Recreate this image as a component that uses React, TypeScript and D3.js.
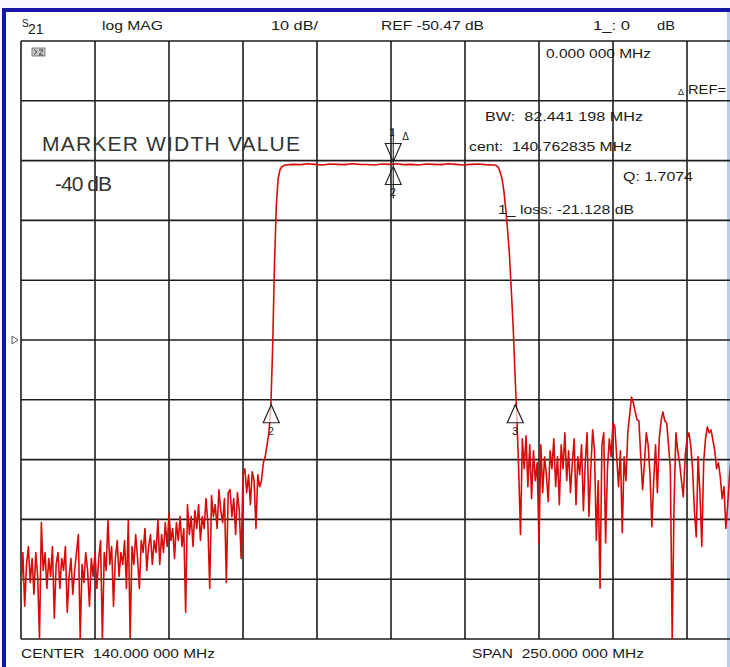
import React from 'react';
import * as d3 from 'd3';

// analyzer settings
const START_MHZ = 15;
const STOP_MHZ = 265;
const REF_DB = -50.47;
const DB_PER_DIV = 10;
const X_DIVS = 10;
const Y_DIVS = 10;

// trace: three sweep segments (start MHz, step MHz, dB values)
const LOW_START = 15;
const FINE_STEP = 0.625;
const lowBand = [
  -92, -86, -95, -88, -85, -91, -87, -93, -86, -90,
  -101, -81, -89, -86, -92, -87, -90, -85, -97, -88,
  -86, -92, -87, -89, -85, -96, -90, -87, -93, -89,
  -86, -83, -101, -88, -91, -86, -89, -95, -87, -90,
  -86, -92, -87, -84, -101, -86, -89, -80.6, -88, -85,
  -95, -87, -84, -90, -86, -88, -84, -92, -80.6, -101,
  -85, -88, -83, -87, -92, -84, -86, -82, -89, -85,
  -83, -88, -84, -86, -80.5, -88, -83, -86, -81, -85,
  -79.5, -84, -82, -87, -81, -84, -80, -85, -82, -96,
  -78, -83, -80, -85, -79, -82, -78, -84, -80, -82,
  -77, -81, -92, -76.5, -80, -78, -82, -75.5, -79, -81,
  -77, -91, -76, -75.5, -80, -77, -83, -76, -79, -87,
  -73, -72, -76, -73, -78, -72.5, -74, -82, -73, -75,
  -74, -71, -70, -68, -66, -62, -52, -38, -28, -23.5,
  -22, -21.5, -21.3,
];

const PASS_START = 104.375;
const PASS_STEP = 2.5;
const passBand = [
  -21.2, -21.1, -21.15, -21.0, -21.1, -21.2, -21.05, -21.1, -21.15, -21.0,
  -21.1, -21.13, -21.2, -21.05, -21.1, -21.0, -21.15, -21.1, -21.2, -21.05,
  -21.1, -21.15, -21.0, -21.1, -21.2, -21.1, -21.05, -21.15, -21.2,
];

const HIGH_START = 175;
const highBand = [
  -21.2, -21.3, -21.6, -22.4, -23.5, -25.5, -28.5, -32, -36, -42,
  -48, -56, -63, -72, -83, -67, -72, -66.5, -75, -68,
  -77, -69, -74, -71, -84.5, -68, -76, -70, -73, -77.5,
  -69, -72, -67, -75, -70, -78, -68, -72, -66, -74,
  -69, -76, -71, -67, -78, -70, -73, -68, -79, -71,
  -66, -80, -72, -65.5, -69, -84, -74, -92, -68, -66,
  -84.4, -72, -67, -70, -64.3, -65, -70, -75, -69, -82.7,
  -70, -74, -66, -63, -60, -61, -62.5, -63.8, -64, -70,
  -75.5, -71, -66, -68, -73, -81.7, -74, -68, -76, -67,
  -64, -62.5, -64, -64.3, -68, -72, -101, -78, -66, -69,
  -71, -74, -76.7, -70, -67, -66, -68, -72, -79, -83.4,
  -70, -76, -85, -71, -67, -65, -66, -65.5, -67.2, -69,
  -72, -71, -73.4, -77, -75, -82, -78, -73, -70, -76,
  -68, -74, -79, -71, -67, -73, -80, -70, -75, -69,
  -77, -72, -74, -68, -76,
];

// markers
const markerFreqs = [140.762835, 99.542, 181.983];
const markerLevels = [-21.128, -61.128, -61.128];
const markerIds = ['1', '2', '3'];

const FONT = '"Liberation Sans", Arial, Helvetica, sans-serif';

export default function App() {
  const W = 730;
  const H = 667;
  const gx0 = 21;
  const gx1 = 761;
  const gy0 = 41;
  const gy1 = 639;

  const topDb = REF_DB + (Y_DIVS / 2) * DB_PER_DIV;
  const botDb = REF_DB - (Y_DIVS / 2) * DB_PER_DIV;

  const x = d3.scaleLinear().domain([START_MHZ, STOP_MHZ]).range([gx0, gx1]);
  const y = d3.scaleLinear().domain([botDb, topDb]).range([gy1, gy0]).clamp(true);

  const pts: [number, number][] = [
    ...lowBand.map((v, i) => [LOW_START + i * FINE_STEP, v] as [number, number]),
    ...passBand.map((v, i) => [PASS_START + i * PASS_STEP, v] as [number, number]),
    ...highBand.map((v, i) => [HIGH_START + i * FINE_STEP, v] as [number, number]),
  ];

  const line = d3
    .line<[number, number]>()
    .x((d) => x(d[0]))
    .y((d) => y(d[1]));

  const xTicks = d3.range(X_DIVS + 1).map((k) => START_MHZ + (k * (STOP_MHZ - START_MHZ)) / X_DIVS);
  const yTicks = d3.range(Y_DIVS + 1).map((k) => topDb - k * DB_PER_DIV);

  const txt = { fontFamily: FONT, fontSize: 13, fill: '#1a1a1a', whiteSpace: 'pre' } as const;
  const small = { ...txt, fontSize: 10 } as const;

  const refY = y(REF_DB);

  return (
    <svg
      width={W}
      height={H}
      style={{ position: 'absolute', left: 0, top: 0, display: 'block', background: '#f6f8fc' }}
    >
      <defs>
        <clipPath id="plot">
          <rect x={gx0} y={gy0} width={gx1 - gx0} height={gy1 - gy0} />
        </clipPath>
      </defs>

      {/* screen frame */}
      <rect x={4} y={10} width={740} height={660} fill="#ffffff" stroke="#1515a8" strokeWidth={4} />
      <line x1={728.5} y1={12} x2={728.5} y2={667} stroke="#b8cdf0" strokeWidth={3} />

      {/* grid */}
      <g stroke="#1e1e1e" strokeWidth={1.6}>
        {xTicks.map((t) => (
          <line key={'v' + t} x1={x(t)} x2={x(t)} y1={gy0} y2={gy1} />
        ))}
        {yTicks.map((t) => (
          <line key={'h' + t} x1={gx0} x2={gx1} y1={y(t)} y2={y(t)} />
        ))}
      </g>

      {/* reference position pointer */}
      <path
        d={`M12,${refY - 4}L18,${refY}L12,${refY + 4}Z`}
        fill="none"
        stroke="#555"
        strokeWidth={1}
      />

      {/* trace */}
      <path
        d={line(pts) || ''}
        clipPath="url(#plot)"
        fill="none"
        stroke="#d80a0a"
        strokeWidth={1.6}
        strokeLinejoin="round"
      />

      {/* markers */}
      {markerFreqs.map((f, i) => {
        const mx = x(f);
        const my = y(markerLevels[i]);
        if (i === 0) {
          return (
            <g key={i} stroke="#222" strokeWidth={1.1}>
              <line x1={mx} x2={mx} y1={my - 36} y2={my + 34} />
              <path d={`M${mx - 8},${my - 21}L${mx + 8},${my - 21}L${mx},${my - 3}Z`} fill="none" />
              <path d={`M${mx},${my + 2}L${mx + 8},${my + 20}L${mx - 8},${my + 20}Z`} fill="none" />
              <text x={mx - 4} y={my - 29} style={small} stroke="none">
                {markerIds[i]}
              </text>
              <text x={mx + 9} y={my - 25} style={small} stroke="none">
                Δ
              </text>
              <text x={mx - 3} y={my + 31} style={small} stroke="none">
                2
              </text>
            </g>
          );
        }
        return (
          <g key={i}>
            <path
              d={`M${mx},${my + 1}L${mx + 8},${my + 19}L${mx - 8},${my + 19}Z`}
              fill="#fff"
              fillOpacity={0.7}
              stroke="#222"
              strokeWidth={1.2}
            />
            <text x={mx - 3} y={my + 31} style={small}>
              {markerIds[i]}
            </text>
          </g>
        );
      })}

      {/* header line */}
      <text x={22} y={27} style={{ ...txt, fontSize: 10 }}>S</text>
      <text x={28} y={34} style={{ ...txt, fontSize: 14 }}>21</text>
      <text x={102} y={30} style={txt} textLength={61} lengthAdjust="spacingAndGlyphs">log MAG</text>
      <text x={271} y={30} style={txt} textLength={47} lengthAdjust="spacingAndGlyphs">10 dB/</text>
      <text x={381} y={30} style={txt} textLength={103} lengthAdjust="spacingAndGlyphs">REF -50.47 dB</text>
      <text x={593} y={30} style={txt} textLength={37} lengthAdjust="spacingAndGlyphs">1_: 0</text>
      <text x={657} y={30} style={txt} textLength={18} lengthAdjust="spacingAndGlyphs">dB</text>

      {/* display icon */}
      <rect x={32} y={48} width={13} height={8} fill="#c8c8c8" stroke="#666" strokeWidth={0.8} />
      <path d="M34,49.5L37,52L34,54.5M39,50H43L39,55H43" fill="none" stroke="#333" strokeWidth={0.9} />

      {/* marker readouts */}
      <text x={546} y={58} style={txt} textLength={105} lengthAdjust="spacingAndGlyphs">0.000 000 MHz</text>
      <text x={678} y={95} style={{ ...txt, fontSize: 9 }}>Δ</text>
      <text x={688} y={94} style={txt} textLength={38} lengthAdjust="spacingAndGlyphs">REF=</text>
      <text x={485} y={121} style={txt} textLength={158} lengthAdjust="spacingAndGlyphs">BW:  82.441 198 MHz</text>
      <text x={469} y={151} style={txt} textLength={163} lengthAdjust="spacingAndGlyphs">cent:  140.762835 MHz</text>
      <text x={623} y={181} style={txt} textLength={70} lengthAdjust="spacingAndGlyphs">Q: 1.7074</text>
      <text x={498} y={214} style={txt} textLength={136} lengthAdjust="spacingAndGlyphs">1_ loss: -21.128 dB</text>

      {/* annotation */}
      <text x={42} y={151} style={{ ...txt, fontSize: 21, fill: '#333' }} textLength={258}>
        MARKER WIDTH VALUE
      </text>
      <text x={55} y={191} style={{ ...txt, fontSize: 21, fill: '#333' }} textLength={57}>
        -40 dB
      </text>

      {/* footer */}
      <text x={21} y={658} style={txt} textLength={194} lengthAdjust="spacingAndGlyphs">CENTER  140.000 000 MHz</text>
      <text x={472} y={658} style={txt} textLength={172} lengthAdjust="spacingAndGlyphs">SPAN  250.000 000 MHz</text>
    </svg>
  );
}
